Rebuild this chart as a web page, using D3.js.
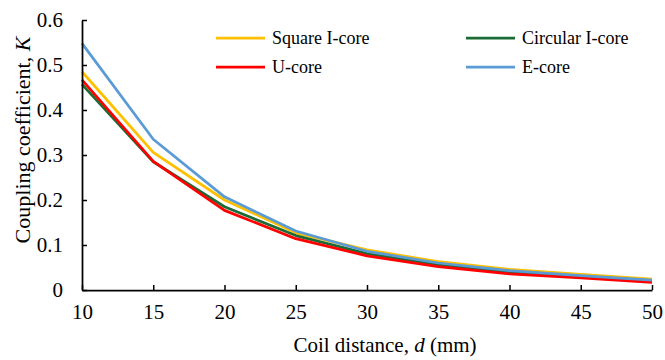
<!DOCTYPE html>
<html>
<head>
<meta charset="utf-8">
<script src="https://cdn.jsdelivr.net/npm/d3@7"></script>
<style>
  body { margin: 0; background: #fff; }
  svg text { font-family: "Liberation Serif", "Times New Roman", Times, "DejaVu Serif", serif; fill: #000; }
</style>
</head>
<body>
<div id="chart"></div>
<script>
// coil distance d (mm)
const distances = [10, 15, 20, 25, 30, 35, 40, 45, 50];

const squareICore   = [0.485, 0.306, 0.200, 0.127, 0.089, 0.063, 0.046, 0.035, 0.024];
const circularICore = [0.457, 0.285, 0.185, 0.121, 0.081, 0.056, 0.040, 0.030, 0.021];
const uCore         = [0.467, 0.286, 0.177, 0.114, 0.076, 0.052, 0.036, 0.027, 0.017];
const eCore         = [0.548, 0.335, 0.207, 0.131, 0.086, 0.060, 0.043, 0.032, 0.022];

const seriesNames = ['Square I-core', 'Circular I-core', 'U-core', 'E-core'];
const yTicks = [0, 0.1, 0.2, 0.3, 0.4, 0.5, 0.6];
const xTicks = [10, 15, 20, 25, 30, 35, 40, 45, 50];

const COLORS = ['#FFC000', '#1B6B34', '#FF0000', '#5B9BD5'];
const FONT = '"Liberation Serif", "Times New Roman", Times, "DejaVu Serif", serif';

const MARGIN = { top: 20, right: 13, bottom: 70, left: 82 };
const MEASUREMENTS = { width: 665, height: 360 };

const width = MEASUREMENTS.width - MARGIN.left - MARGIN.right;
const height = MEASUREMENTS.height - MARGIN.top - MARGIN.bottom;

const series = [squareICore, circularICore, uCore, eCore].map((values, i) => ({
  name: seriesNames[i],
  color: COLORS[i],
  points: values.map((v, j) => ({ d: distances[j], k: v }))
}));

const svg = d3.select('#chart').append('svg')
  .attr('width', MEASUREMENTS.width)
  .attr('height', MEASUREMENTS.height)
  .attr('font-family', FONT);

const g = svg.append('g')
  .attr('transform', `translate(${MARGIN.left}, ${MARGIN.top})`);

const x = d3.scaleLinear().domain([10, 50]).range([0, width]);
const y = d3.scaleLinear().domain([0, 0.6]).range([height, 0]);

// lines first, axes drawn on top like in the original
const line = d3.line()
  .x(p => x(p.d))
  .y(p => y(p.k));

g.selectAll('path.series')
  .data(series)
  .enter().append('path')
  .attr('class', 'series')
  .attr('fill', 'none')
  .attr('stroke', s => s.color)
  .attr('stroke-width', 2.75)
  .attr('stroke-linejoin', 'round')
  .attr('d', s => line(s.points));

// axes
const xAxis = g.append('g')
  .attr('transform', `translate(0, ${height})`)
  .call(d3.axisBottom(x).tickValues(xTicks).tickSizeInner(-5).tickSizeOuter(0).tickPadding(14));

const yAxis = g.append('g')
  .call(d3.axisLeft(y).tickValues(yTicks).tickSizeInner(-5).tickSizeOuter(0).tickPadding(19)
    .tickFormat(v => v === 0 ? '0' : d3.format('.1f')(v)));

[xAxis, yAxis].forEach(a => {
  a.attr('font-family', FONT).attr('font-size', 21);
  a.select('.domain').attr('stroke', '#000').attr('stroke-width', 1.75);
  a.selectAll('.tick line').attr('stroke', '#000').attr('stroke-width', 1.5);
  a.selectAll('.tick text').attr('fill', '#000');
});

// axis titles
const xTitle = svg.append('text')
  .attr('x', 385)
  .attr('y', 352)
  .attr('text-anchor', 'middle')
  .attr('font-size', 21);
xTitle.append('tspan').text('Coil distance, ');
xTitle.append('tspan').attr('font-style', 'italic').text('d');
xTitle.append('tspan').text(' (mm)');

const yTitle = svg.append('text')
  .attr('transform', 'translate(30, 140) rotate(-90)')
  .attr('text-anchor', 'middle')
  .attr('font-size', 22);
yTitle.append('tspan').text('Coupling coefficient, ');
yTitle.append('tspan').attr('font-style', 'italic').text('K');

// legend: two columns, two rows
const legend = svg.append('g');
const legendItems = legend.selectAll('g')
  .data(series)
  .enter().append('g')
  .attr('transform', (s, i) => `translate(${i % 2 === 0 ? 216 : 466}, ${i < 2 ? 38 : 67})`);

legendItems.append('line')
  .attr('x1', 0).attr('x2', 49)
  .attr('y1', 0).attr('y2', 0)
  .attr('stroke', s => s.color)
  .attr('stroke-width', 2.75);

legendItems.append('text')
  .attr('x', 56)
  .attr('y', 0)
  .attr('dy', '0.35em')
  .attr('font-size', 18)
  .text(s => s.name);
</script>
</body>
</html>
